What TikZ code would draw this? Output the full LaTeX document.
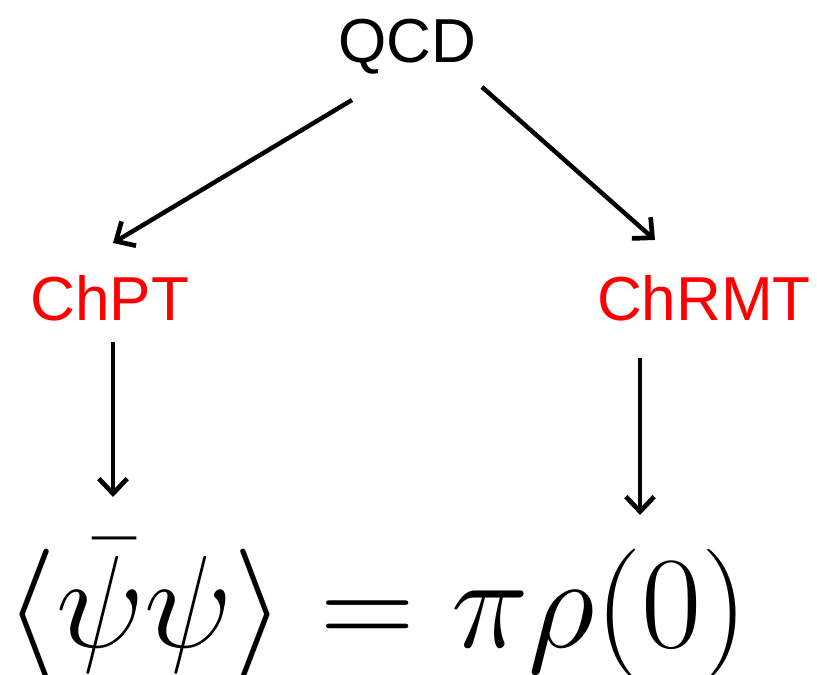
\documentclass[tikz,border=0pt]{standalone}
\usepackage{fix-cm}
\usepackage{fontspec}
\setmainfont{Liberation Sans}
\usepackage{xcolor}
\usepackage{tikz}
\usetikzlibrary{arrows.meta,calc}
\tikzset{
  lbl/.style={font=\fontsize{53}{60}\selectfont, anchor=base, inner sep=0pt},
  arr/.style={line width=3.8pt, -{Straight Barb[length=0.45cm, width=0.85cm, line width=4pt]}},
}
\begin{document}
\begin{tikzpicture}[x=0.03cm, y=-0.03cm]
  \useasboundingbox (0,0) rectangle (817,674);
  % top and middle row
  \node[lbl] (qcd) at (407,63) {QCD};
  \node[lbl, text=red] (chpt) at (110,320) {ChPT};
  \node[lbl, text=red] (chrmt) at (704,320) {ChRMT};
  % formula
  \node[anchor=base, inner sep=0pt, font=\fontsize{112}{120}\selectfont] (rel) at (377,647)
    {$\langle\bar\psi\psi\rangle = \pi\rho(0)$};
  \draw[arr] ($(qcd.base)+(-55,37)$) -- ($(chpt.base)+(3,-77)$);
  \draw[arr] ($(qcd.base)+(75,24)$) -- ($(chrmt.base)+(-49,-80)$);
  \draw[arr] ($(chpt.base)+(3,22)$) -- ($(chpt.base)+(3,177)$);
  \draw[arr] ($(chrmt.base)+(-64,38)$) -- ($(chrmt.base)+(-64,195)$);
\end{tikzpicture}
\end{document}
